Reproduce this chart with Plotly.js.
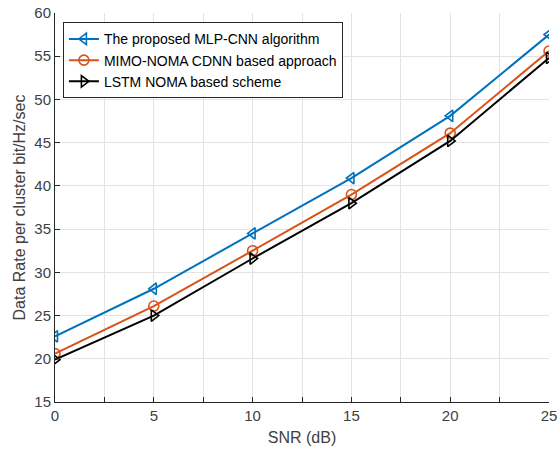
<!DOCTYPE html>
<html>
<head>
<meta charset="utf-8">
<script src="https://cdn.plot.ly/plotly-3.0.1.min.js"></script>
<style>
  html, body { margin: 0; padding: 0; background: #fff; }
  #chart { width: 560px; height: 454px; }
</style>
</head>
<body>
<div id="chart"></div>
<script>
// SNR sweep (dB)
const snr = [0, 5, 10, 15, 20, 25];

// Data rate per cluster (bit/Hz/sec) for each scheme
const mlpCnn = [22.6, 28.1, 34.5, 40.9, 48.1, 57.5];
const mimoNomaCdnn = [20.6, 26.1, 32.5, 39.0, 46.1, 55.6];
const lstmNoma = [19.9, 25.0, 31.6, 38.0, 45.2, 54.8];

const seriesNames = [
  'The proposed MLP-CNN algorithm',
  'MIMO-NOMA CDNN based approach',
  'LSTM NOMA based scheme'
];

const xTickVals = [0, 5, 10, 15, 20, 25];
const yTickVals = [15, 20, 25, 30, 35, 40, 45, 50, 55, 60];

const font = 'Arial, "Liberation Sans", sans-serif';

function series(y, name, color, symbol) {
  return {
    x: snr, y: y, name: name, type: 'scatter', mode: 'lines+markers',
    line: { color: color, width: 2 },
    marker: { symbol: symbol, size: 10, color: color, line: { color: color, width: 1.6 } }
  };
}

const traces = [
  series(mlpCnn, seriesNames[0], '#0072BD', 'triangle-left-open'),
  series(mimoNomaCdnn, seriesNames[1], '#D95319', 'circle-open'),
  series(lstmNoma, seriesNames[2], '#000000', 'triangle-right-open')
];

const layout = {
  width: 560, height: 454,
  margin: { l: 55, r: 11, t: 13, b: 52 },
  paper_bgcolor: '#ffffff', plot_bgcolor: '#ffffff',
  font: { family: font, color: '#262626' },
  showlegend: true,
  legend: {
    x: 0.016, y: 0.976, xanchor: 'left', yanchor: 'top',
    bgcolor: '#ffffff', bordercolor: '#262626', borderwidth: 1,
    font: { family: font, size: 14, color: '#000000' },
    tracegroupgap: 0
  },
  xaxis: {
    range: [0, 25],
    tickvals: xTickVals, ticktext: xTickVals.map(String),
    ticks: 'inside', ticklen: 5, tickcolor: '#262626',
    showline: true, linecolor: '#262626', linewidth: 1,
    showgrid: true, gridcolor: '#e3e3e3', gridwidth: 1,
    minor: { dtick: 2.5, ticks: 'inside', ticklen: 5, tickcolor: '#262626', showgrid: true, gridcolor: '#e3e3e3' },
    zeroline: false,
    tickfont: { family: font, size: 15, color: '#404040' },
    title: { text: 'SNR (dB)', font: { family: font, size: 16, color: '#404040' }, standoff: 8 }
  },
  yaxis: {
    range: [15, 60],
    tickvals: yTickVals, ticktext: yTickVals.map(String),
    ticks: 'inside', ticklen: 5, tickcolor: '#262626',
    showline: true, linecolor: '#262626', linewidth: 1,
    showgrid: true, gridcolor: '#e3e3e3', gridwidth: 1,
    zeroline: false,
    tickfont: { family: font, size: 15, color: '#404040' },
    title: { text: 'Data Rate per cluster bit/Hz/sec', font: { family: font, size: 16, color: '#404040' }, standoff: 4 }
  }
};

Plotly.newPlot('chart', traces, layout, { displayModeBar: false, staticPlot: true });
</script>
</body>
</html>
